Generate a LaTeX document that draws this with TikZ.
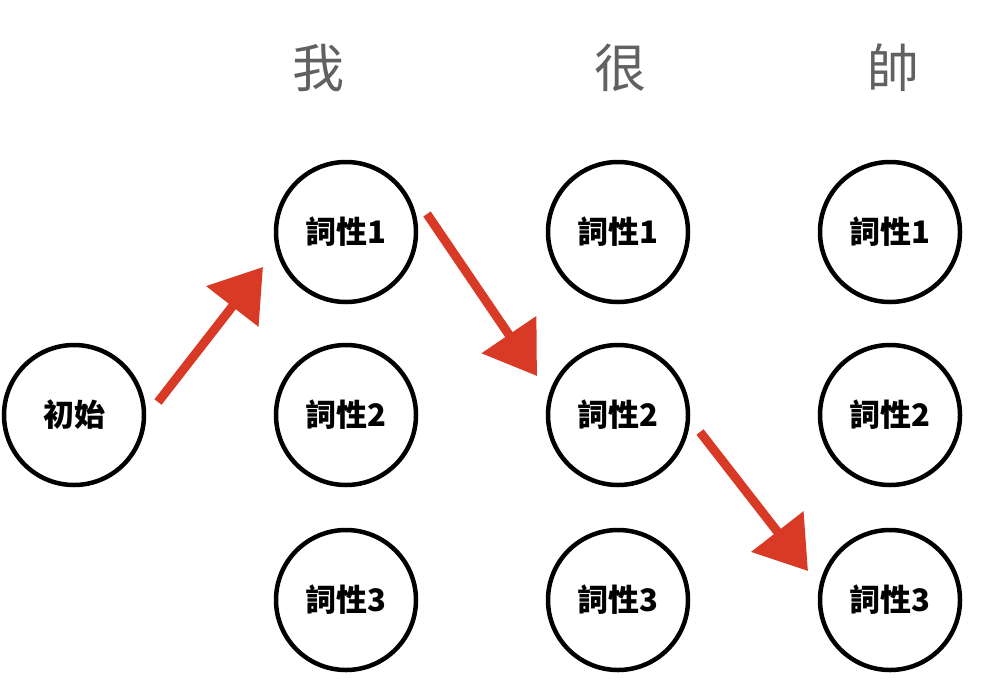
\documentclass[tikz,border=0pt]{standalone}
\usepackage{fontspec}
\usepackage{tikz}
\usepackage{xcolor}
\usetikzlibrary{arrows.meta, positioning}
\newfontfamily\cjk{Noto Sans CJK TC}
\definecolor{Path_Red}{HTML}{D93A26}
\definecolor{Word_Gray}{HTML}{616161}

\begin{document}
\begin{tikzpicture}[x=1pt, y=-1pt,
    state/.style={draw, circle, line width=4.5pt, fill=white, minimum size=140pt, inner sep=0pt, font=\cjk\bfseries\fontsize{31}{36}\selectfont},
    word/.style={Word_Gray, font=\cjk\fontsize{52}{60}\selectfont},
    pick/.style={-{Triangle[length=50pt, width=64pt]}, line width=9pt, Path_Red}]

    \useasboundingbox (0,0) rectangle (984,686);

    % Words
    \node[word] (wo) at (318,68) {我};
    \node[word] (hen) at (620,68) {很};
    \node[word] (shuai) at (893,68) {帥};

    % States
    \node[state] (init) at (74,415) {初始};
    \node[state] (wo1) at (346,232) {詞性1};
    \node[state] (wo2) at (346,415) {詞性2};
    \node[state] (wo3) at (346,600) {詞性3};
    \node[state] (hen1) at (618,232) {詞性1};
    \node[state] (hen2) at (618,415) {詞性2};
    \node[state] (hen3) at (618,600) {詞性3};
    \node[state] (shuai1) at (890,232) {詞性1};
    \node[state] (shuai2) at (890,415) {詞性2};
    \node[state] (shuai3) at (890,600) {詞性3};

    % Arrows
    \coordinate (p0) at (158,402);
    \coordinate (p1) at (263,267);
    \coordinate (q0) at (427,214);
    \coordinate (q1) at (537,376);
    \coordinate (r0) at (700,432);
    \coordinate (r1) at (808,571);
    \draw[pick] (p0) -- (p1);
    \draw[pick] (q0) -- (q1);
    \draw[pick] (r0) -- (r1);
\end{tikzpicture}
\end{document}
